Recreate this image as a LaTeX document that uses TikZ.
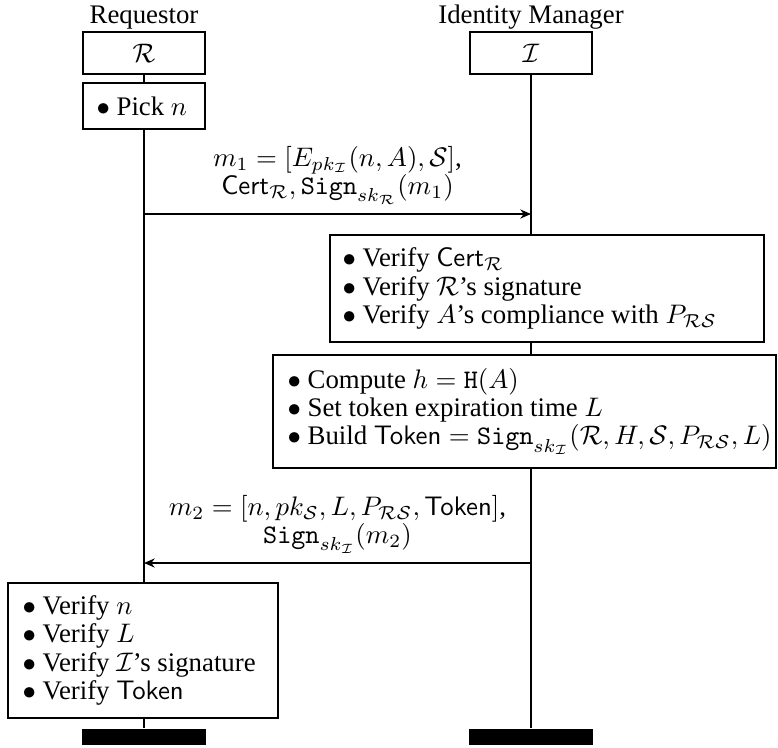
\documentclass[tikz,border=0pt]{standalone}
\usepackage[no-math]{fontspec}
\setmainfont{Liberation Serif}
\usetikzlibrary{arrows.meta}
\begin{document}
\begin{tikzpicture}[x=0.3731pt, y=-0.3731pt,
  lbl/.style={anchor=base, inner sep=0pt},
  headbox/.style={draw, line width=0.6pt, fill=white, minimum width=45.52pt, minimum height=15.67pt, inner sep=0pt},
  actbox/.style={draw, line width=0.6pt, fill=white, inner sep=0pt},
  listtxt/.style={anchor=west, align=left, inner sep=0pt, font=\fontsize{10}{10.6}\selectfont},
  lifeline/.style={line width=0.9pt},
  endbar/.style={fill=black, minimum width=45.9pt, minimum height=5.97pt, inner sep=0pt},
  msg/.style={line width=0.6pt, -{Stealth[length=4pt, width=3.4pt]}},
  msglbl/.style={above, align=center, font=\fontsize{10}{10.5}\selectfont}
]
\useasboundingbox (0,0) rectangle (778,747);

% heads
\node[lbl] (lblR) at (144,23) {Requestor};
\node[lbl] (lblI) at (531,23) {Identity Manager};
\node[headbox] (R) at (144,53) {$\mathcal{R}$};
\node[headbox] (I) at (531,53) {$\mathcal{I}$};

% end bars
\node[endbar] (Rend) at (144,737) {};
\node[endbar] (Iend) at (531,737) {};

% lifelines
\draw[lifeline] (R.south) -- (Rend.north);
\draw[lifeline] (I.south) -- (Iend.north);

% Pick n
\node[actbox, minimum width=45.52pt, minimum height=17.16pt] (pick) at (144,106) {};
\node[listtxt] (picktxt) at (96,106) {$\bullet$ Pick $n$};

% message m1
\coordinate (r1) at (144,214);
\coordinate (i1) at (531,214);
\draw[msg] (r1) -- node[msglbl] (m1lbl) {$m_1 = [E_{pk_{\mathcal{I}}}(n, A), \mathcal{S}]$,\\ $\mathsf{Cert}_{\mathcal{R}}, \mathtt{Sign}_{sk_{\mathcal{R}}}(m_1)$} (i1);

% Verify box
\node[actbox, minimum width=161.93pt, minimum height=39.92pt] (vbox) at (547,288.5) {};
\node[listtxt] (vtxt) at (342,288.5) {$\bullet$ Verify $\mathsf{Cert}_{\mathcal{R}}$\\
$\bullet$ Verify $\mathcal{R}$'s signature\\
$\bullet$ Verify $A$'s compliance with $P_{\mathcal{RS}}$};

% Compute box
\node[actbox, minimum width=187.67pt, minimum height=42.16pt] (cbox) at (524.5,411.5) {};
\node[listtxt] (ctxt) at (287,411.5) {$\bullet$ Compute $h = \mathtt{H}(A)$\\
$\bullet$ Set token expiration time $L$\\
$\bullet$ Build $\mathsf{Token} = \mathtt{Sign}_{sk_{\mathcal{I}}}(\mathcal{R}, H, \mathcal{S}, P_{\mathcal{RS}}, L)$};

% message m2
\coordinate (i2) at (531,563);
\coordinate (r2) at (144,563);
\draw[msg] (i2) -- node[msglbl] (m2lbl) {$m_2 = [n, pk_{\mathcal{S}}, L, P_{\mathcal{RS}}, \mathsf{Token}]$,\\ $\mathtt{Sign}_{sk_{\mathcal{I}}}(m_2)$} (r2);

% Final verification box
\node[actbox, minimum width=100.74pt, minimum height=50.37pt] (fbox) at (143,650.5) {};
\node[listtxt] (ftxt) at (22,650.5) {$\bullet$ Verify $n$\\
$\bullet$ Verify $L$\\
$\bullet$ Verify $\mathcal{I}$'s signature\\
$\bullet$ Verify $\mathsf{Token}$};
\end{tikzpicture}
\end{document}
